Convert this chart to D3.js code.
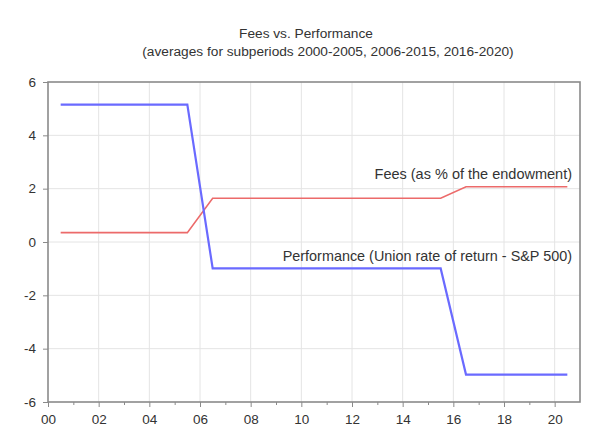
<!DOCTYPE html>
<html><head><meta charset="utf-8">
<script src="https://cdn.jsdelivr.net/npm/d3@7"></script>
<style>body{margin:0;background:#fff}svg{display:block}text{font-family:"Liberation Sans",Arial,sans-serif;fill:#333}</style>
</head><body><svg id="c" width="600" height="444"></svg>
<script>
const years = [2000,2001,2002,2003,2004,2005,2006,2007,2008,2009,2010,2011,2012,2013,2014,2015,2016,2017,2018,2019,2020];
const performance = [5.15,5.15,5.15,5.15,5.15,5.15,-0.99,-0.99,-0.99,-0.99,-0.99,-0.99,-0.99,-0.99,-0.99,-0.99,-4.97,-4.97,-4.97,-4.97,-4.97];
const fees = [0.35,0.35,0.35,0.35,0.35,0.35,1.64,1.64,1.64,1.64,1.64,1.64,1.64,1.64,1.64,1.64,2.07,2.07,2.07,2.07,2.07];
const yTicks = [-6,-4,-2,0,2,4,6];
const xMajor = [2000,2002,2004,2006,2008,2010,2012,2014,2016,2018,2020];
const xMinor = [2001,2003,2005,2007,2009,2011,2013,2015,2017,2019];
const title = "Fees vs. Performance";
const subtitle = "(averages for subperiods 2000-2005, 2006-2015, 2016-2020)";
const feesLabel = "Fees (as % of the endowment)";
const perfLabel = "Performance (Union rate of return - S&P 500)";

const FONT = '"Liberation Sans",Arial,sans-serif';
const svg = d3.select("#c");
const L = 48, R = 580, T = 82, B = 402;
const x = d3.scaleLinear().domain([2000, 2021]).range([L, R]);
const y = d3.scaleLinear().domain([-6, 6]).range([B, T]);

// grid
svg.append("g").selectAll("line").data(yTicks.slice(1,-1)).join("line")
  .attr("x1", L).attr("x2", R).attr("y1", d => y(d)).attr("y2", d => y(d))
  .attr("stroke", "#e4e4e4").attr("stroke-width", 1);
svg.append("g").selectAll("line").data(xMajor.slice(1)).join("line")
  .attr("x1", d => x(d)).attr("x2", d => x(d)).attr("y1", T).attr("y2", B)
  .attr("stroke", "#e4e4e4").attr("stroke-width", 1);

// frame
svg.append("rect").attr("x", L).attr("y", T).attr("width", R - L).attr("height", B - T)
  .attr("fill", "none").attr("stroke", "#8a8a8a").attr("stroke-width", 1.6);

// axes
const yAxis = d3.axisLeft(y).tickValues(yTicks).tickSize(5).tickPadding(7)
  .tickFormat(d => String(d).replace("\u2212", "-"));
const gy = svg.append("g").attr("transform", `translate(${L},0)`).call(yAxis);
gy.select(".domain").remove();
gy.selectAll("line").attr("stroke", "#8a8a8a");
gy.selectAll("text").attr("font-size", 13.5).attr("fill", "#444").attr("font-family", FONT);

const xAxis = d3.axisBottom(x).tickValues(xMajor).tickSize(5).tickPadding(7)
  .tickFormat(d => String(d % 100).padStart(2, "0"));
const gx = svg.append("g").attr("transform", `translate(0,${B})`).call(xAxis);
gx.select(".domain").remove();
gx.selectAll("line").attr("stroke", "#8a8a8a");
gx.selectAll("text").attr("font-size", 13.5).attr("fill", "#444").attr("font-family", FONT);
const xMinorAxis = d3.axisBottom(x).tickValues(xMinor).tickSize(3).tickFormat("");
const gxm = svg.append("g").attr("transform", `translate(0,${B})`).call(xMinorAxis);
gxm.select(".domain").remove();
gxm.selectAll("line").attr("stroke", "#8a8a8a");

// lines
const line = d3.line().x((d, i) => x(years[i] + 0.5)).y(d => y(d));
svg.append("path").datum(fees).attr("d", line).attr("fill", "none")
  .attr("stroke", "#ec6a6a").attr("stroke-width", 1.6);
svg.append("path").datum(performance).attr("d", line).attr("fill", "none")
  .attr("stroke", "#6a6aff").attr("stroke-width", 2.2);

// labels
svg.append("text").attr("x", 572).attr("y", 179).attr("text-anchor", "end")
  .attr("font-size", 14.5).text(feesLabel);
svg.append("text").attr("x", 572).attr("y", 261).attr("text-anchor", "end")
  .attr("font-size", 14.4).text(perfLabel);

// titles
svg.append("text").attr("x", 306).attr("y", 38).attr("text-anchor", "middle")
  .attr("font-size", 13.7).text(title);
svg.append("text").attr("x", 328).attr("y", 56).attr("text-anchor", "middle")
  .attr("font-size", 13.7).text(subtitle);
</script></body></html>
